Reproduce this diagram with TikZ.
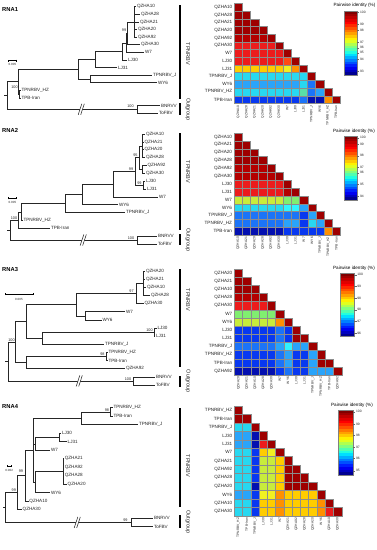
\documentclass[tikz,border=0pt]{standalone}
\usepackage{fontspec}
\setmainfont{Liberation Sans}
\usetikzlibrary{calc,arrows.meta}
\definecolor{DR}{HTML}{9E0000}
\definecolor{DQ}{HTML}{B40000}
\definecolor{RD}{HTML}{EC1C1C}
\definecolor{RO}{HTML}{FF4A14}
\definecolor{OR}{HTML}{FF9000}
\definecolor{GD}{HTML}{FFCC00}
\definecolor{YL}{HTML}{F2F020}
\definecolor{YG}{HTML}{C8EC3C}
\definecolor{LG}{HTML}{80EE70}
\definecolor{GC}{HTML}{58E0A8}
\definecolor{CY}{HTML}{28D8F0}
\definecolor{CZ}{HTML}{30F4FF}
\definecolor{LB}{HTML}{2AA4FA}
\definecolor{MB}{HTML}{1C74F8}
\definecolor{BL}{HTML}{0838F0}
\definecolor{DB}{HTML}{0410B0}
\definecolor{cb1}{HTML}{800000}
\definecolor{cb2}{HTML}{A00000}
\definecolor{cb3}{HTML}{C00000}
\definecolor{cb4}{HTML}{E00000}
\definecolor{cb5}{HTML}{FF0000}
\definecolor{cb6}{HTML}{FF2800}
\definecolor{cb7}{HTML}{FF5000}
\definecolor{cb8}{HTML}{FF7800}
\definecolor{cb9}{HTML}{FFA000}
\definecolor{cb10}{HTML}{FFC800}
\definecolor{cb11}{HTML}{FFF000}
\definecolor{cb12}{HTML}{E0FF20}
\definecolor{cb13}{HTML}{B0FF50}
\definecolor{cb14}{HTML}{80FF80}
\definecolor{cb15}{HTML}{50FFB0}
\definecolor{cb16}{HTML}{20FFE0}
\definecolor{cb17}{HTML}{00E0FF}
\definecolor{cb18}{HTML}{00B0FF}
\definecolor{cb19}{HTML}{0080FF}
\definecolor{cb20}{HTML}{0050FF}
\definecolor{cb21}{HTML}{0020FF}
\definecolor{cb22}{HTML}{0000F0}
\definecolor{cb23}{HTML}{0000C0}
\definecolor{cb24}{HTML}{000090}
\tikzset{
 br/.style={line width=0.55pt, draw=black!85},
 tip/.style={anchor=west, inner sep=0.8pt, font=\fontsize{4.6}{5}\selectfont, text=black!85},
 boot/.style={inner sep=0pt, font=\fontsize{3.8}{4}\selectfont, text=black!85},
 ttl/.style={anchor=west, inner sep=0pt, font=\fontsize{5.8}{6}\selectfont\bfseries},
 sbar/.style={line width=0.5pt, {Bar[width=2pt]}-{Bar[width=2pt]}},
 slab/.style={inner sep=0pt, font=\fontsize{3}{3.5}\selectfont, text=black!85},
 clade/.style={line width=1.4pt, draw=black},
 cladelab/.style={rotate=-90, inner sep=0pt, font=\fontsize{5.5}{6}\selectfont, text=black!85},
 rowlab/.style={anchor=east, inner sep=0pt, font=\fontsize{4.6}{5}\selectfont, text=black!85},
 collab/.style={anchor=east, rotate=90, inner sep=0pt, font=\fontsize{3.3}{4}\selectfont, text=black!85},
 cell/.style={draw=black!45, line width=0.3pt},
 cbt/.style={inner sep=0pt, font=\fontsize{4.6}{5}\selectfont},
 cbl/.style={anchor=west, inner sep=0pt, font=\fontsize{3.3}{4}\selectfont, text=black!85},
}
\newcommand\hmap[7]{%
 \foreach \rowc [count=\i] in {#6}{%
  \foreach \cc [count=\j] in \rowc{%
   \path[cell, fill=\cc] ({#1+(\j-1)*#3},{#2+(\i-1)*#4}) rectangle ++(#3,#4);
  }}%
 \foreach \lab [count=\i] in {#5}{%
  \node[rowlab] (#7r\i) at ({#1-1.8},{#2+(\i-0.5)*#4}) {\lab};
  \node[collab] (#7c\i) at ({#1+(\i-0.5)*#3},{#2+13*#4+1.8}) {\lab};
 }}
\newcommand\cbar[6]{%
 \foreach \k in {1,...,24}{%
  \fill[cb\k] ({#1},{#2+(\k-1)*#4/24-0.05}) rectangle ({#1+#3},{#2+\k*#4/24+0.05});
 }%
 \draw[black!50, line width=0.3pt] (#1,#2) rectangle ({#1+#3},{#2+#4});
 \foreach \lab/\yy [count=\k] in {#5}{%
  \draw[black!60, line width=0.3pt] ({#1+#3},\yy) -- ++(2.5,0);
  \node[cbl] (#6t\k) at ({#1+#3+3.2},\yy) {\lab};
 }}
\newcommand\brk[1]{%
 \fill[white] ($(#1)+(-1.8,5.5)$) -- ($(#1)+(1.8,-5.5)$) -- ($(#1)+(4.3,-5.5)$) -- ($(#1)+(0.7,5.5)$) -- cycle;
 \draw[br] ($(#1)+(-1.8,5.5)$) -- ($(#1)+(1.8,-5.5)$) ($(#1)+(0.7,5.5)$) -- ($(#1)+(4.3,-5.5)$);}
\begin{document}
\begin{tikzpicture}[x=1pt,y=-1pt]
\useasboundingbox (0,0) rectangle (377,550);
\fill[white] (0,0) rectangle (377,550);

% ================= RNA1 =================
\node[ttl] (t1) at (2,9) {RNA1};
\coordinate (aQc) at (134,21.9);
\coordinate (aN99) at (127.5,33.3);
\coordinate (aNW) at (126,42.8);
\coordinate (aNL) at (122,51.35);
\coordinate (aNP) at (95,59.4);
\coordinate (aNJ) at (90,78.9);
\coordinate (aM) at (78,69.2);
\coordinate (aNH) at (19.5,94.1);
\coordinate (aI) at (18,81.6);
\coordinate (aO) at (137,109.3);
\coordinate (aR) at (7,95.5);
\coordinate (aS) at (4,95.5);
\node[tip] (a1) at (136,6.7) {QZHA10};
\node[tip] (a2) at (140,14.3) {QZHA28};
\node[tip] (a3) at (139,21.9) {QZHA21};
\node[tip] (a4) at (137,29.5) {QZHA20};
\node[tip] (a5) at (137,37.1) {QZHA92};
\node[tip] (a6) at (140,44.7) {QZHA30};
\node[tip] (a7) at (144,52.3) {W7};
\node[tip] (a8) at (127,59.9) {LJ30};
\node[tip] (a9) at (117,67.5) {LJ31};
\node[tip] (a10) at (152,75.1) {TPNRBV\_J};
\node[tip] (a11) at (157,82.7) {WY6};
\node[tip] (a12) at (20.5,90.3) {TPNRBV\_HZ};
\node[tip] (a13) at (20.5,97.9) {TPB-Iran};
\node[tip] (a14) at (160,105.5) {BNRVV};
\node[tip] (a15) at (158,113.1) {ToFBV};
\draw[br] (aS) -- (aR);
\draw[br] (aR) |- (aI);
\draw[br] (aR) |- (aO);
\draw[br] (aI) |- (aM);
\draw[br] (aI) |- (aNH);
\draw[br] (aNH) |- (a12.west);
\draw[br] (aNH) |- (a13.west);
\draw[br] (aM) |- (aNP);
\draw[br] (aM) |- (aNJ);
\draw[br] (aNJ) |- (a10.west);
\draw[br] (aNJ) |- (a11.west);
\draw[br] (aNP) |- (aNL);
\draw[br] (aNP) |- (a9.west);
\draw[br] (aNL) |- (aNW);
\draw[br] (aNL) |- (a8.west);
\draw[br] (aNW) |- (aN99);
\draw[br] (aNW) |- (a7.west);
\draw[br] (aN99) |- (aQc);
\draw[br] (aN99) |- (a6.west);
\draw[br] (aQc) |- (a1.west);
\draw[br] (aQc) |- (a2.west);
\draw[br] (aQc) |- (a3.west);
\draw[br] (aQc) |- (a4.west);
\draw[br] (aQc) |- (a5.west);
\draw[br] (aO) |- (a14.west);
\draw[br] (aO) |- (a15.west);
\coordinate (aBk) at (80,109.3);
\brk{aBk}
\node[boot] (ab1) at (124,30) {99};
\node[boot] (ab2) at (14.5,87) {100};
\node[boot] (ab3) at (130.5,106.5) {100};
\coordinate (as1) at (8.3,60.7);
\coordinate (as2) at (16.7,60.7);
\draw[sbar] (as1) -- (as2);
\node[slab] (asl) at (12.5,64.5) {0.005};
\coordinate (ac1) at (180,5);
\coordinate (ac2) at (180,99);
\coordinate (ac3) at (180,103.3);
\coordinate (ac4) at (180,115);
\draw[clade] (ac1) -- (ac2);
\draw[clade] (ac3) -- (ac4);
\node[cladelab] (acl1) at (188,54) {TPNRBV};
\node[cladelab] (acl2) at (188,109.5) {Outgroup};
\hmap{234.3}{3.3}{8.13}{7.7}{QZHA10,QZHA28,QZHA21,QZHA20,QZHA92,QZHA30,W7,LJ30,LJ31,TPNRBV\_J,WY6,TPNRBV\_HZ,TPB-Iran}{{DR},{DR,DR},{DR,DR,DR},{DR,DR,DR,DR},{DQ,DQ,DQ,DQ,DR},{RD,RD,RD,RD,RD,DR},{RD,RD,RD,RD,RD,RD,DR},{RD,RD,RD,RD,RD,RD,RO,DR},{GD,GD,GD,GD,GD,GD,YL,OR,DR},{CY,CY,CY,CY,CY,CY,CY,CY,CY,DR},{LB,LB,LB,LB,LB,LB,LB,LB,CY,MB,DR},{CY,CY,CY,CY,CY,CY,CY,CY,GC,MB,LB,DR},{BL,BL,BL,BL,BL,BL,BL,BL,MB,DB,DB,OR,DR}}{ha}
\node[cbt] (k1ttl) at (354.5,5.5) {Pairwise identity (\%)};
\cbar{344}{11}{12.7}{64}{100/12.3,99/24.3,98/30,97/42.3,96/47.7,95/52.7,94/59.3,93/71}{ka}

% ================= RNA2 =================
\node[ttl] (t2) at (2,130) {RNA2};
\coordinate (bG1) at (142,145.8);
\coordinate (bG2) at (142.5,169.3);
\coordinate (bG) at (139,157.55);
\coordinate (bLJ) at (143,185.0);
\coordinate (bN) at (135,171.3);
\coordinate (bL) at (113,184.0);
\coordinate (bK) at (82,194.3);
\coordinate (bM) at (65,203.4);
\coordinate (bJ) at (21.5,211.9);
\coordinate (bI) at (18,220.0);
\coordinate (bO) at (137,240.0);
\coordinate (bR) at (10,230);
\coordinate (bS) at (7,230);
\node[tip] (b1) at (145,134) {QZHA10};
\node[tip] (b2) at (143.5,141.85) {QZHA21};
\node[tip] (b3) at (143.5,149.7) {QZHA20};
\node[tip] (b4) at (145,157.55) {QZHA28};
\node[tip] (b5) at (146.5,165.4) {QZHA92};
\node[tip] (b6) at (145,173.25) {QZHA30};
\node[tip] (b7) at (145,181.1) {LJ30};
\node[tip] (b8) at (146,188.95) {LJ31};
\node[tip] (b9) at (158,196.8) {W7};
\node[tip] (b10) at (118,204.65) {WY6};
\node[tip] (b11) at (125,212.5) {TPNRBV\_J};
\node[tip] (b12) at (22.5,220.35) {TPNRBV\_HZ};
\node[tip] (b13) at (50,228.2) {TPB-Iran};
\node[tip] (b14) at (157,236.05) {BNRVV};
\node[tip] (b15) at (157,243.9) {ToFBV};
\draw[br] (bS) -- (bR);
\draw[br] (bR) |- (bI);
\draw[br] (bR) |- (bO);
\draw[br] (bI) |- (bJ);
\draw[br] (bI) |- (b13.west);
\draw[br] (bJ) |- (bM);
\draw[br] (bJ) |- (b12.west);
\draw[br] (bM) |- (bK);
\draw[br] (bM) |- (b11.west);
\draw[br] (bK) |- (bL);
\draw[br] (bK) |- (b10.west);
\draw[br] (bL) |- (bN);
\draw[br] (bL) |- (b9.west);
\draw[br] (bN) |- (bG);
\draw[br] (bN) |- (bLJ);
\draw[br] (bLJ) |- (b7.west);
\draw[br] (bLJ) |- (b8.west);
\draw[br] (bG) |- (bG1);
\draw[br] (bG) |- (bG2);
\draw[br] (bG1) |- (b1.west);
\draw[br] (bG1) |- (b2.west);
\draw[br] (bG1) |- (b3.west);
\draw[br] (bG1) |- (b4.west);
\draw[br] (bG2) |- (b5.west);
\draw[br] (bG2) |- (b6.west);
\draw[br] (bO) |- (b14.west);
\draw[br] (bO) |- (b15.west);
\coordinate (bBk) at (82,240);
\brk{bBk}
\node[boot] (bb1) at (135.5,155.5) {95};
\node[boot] (bb2) at (131,169.5) {99};
\node[boot] (bb3) at (139.5,183) {99};
\node[boot] (bb4) at (14,218) {100};
\node[boot] (bb5) at (131,238) {100};
\coordinate (bs1) at (8.3,198.3);
\coordinate (bs2) at (16.7,198.3);
\draw[sbar] (bs1) -- (bs2);
\node[slab] (bsl) at (12.5,202.3) {0.005};
\coordinate (bc1) at (180,133.3);
\coordinate (bc2) at (180,230);
\coordinate (bc3) at (180,234.3);
\coordinate (bc4) at (180,245);
\draw[clade] (bc1) -- (bc2);
\draw[clade] (bc3) -- (bc4);
\node[cladelab] (bcl1) at (188,172) {TPNRBV};
\node[cladelab] (bcl2) at (188,240) {Outgroup};
\hmap{234}{133}{8.2}{7.85}{QZHA10,QZHA21,QZHA20,QZHA28,QZHA92,QZHA30,LJ30,LJ31,W7,WY6,TPNRBV\_J,TPNRBV\_HZ,TPB-Iran}{{DR},{DR,DR},{DR,DR,DR},{DR,DR,DR,DR},{DQ,DQ,DQ,DQ,DR},{DQ,DQ,DQ,DQ,DQ,DR},{RD,RD,RD,RD,RD,RD,DR},{RD,RD,RD,RD,RD,RD,DQ,DR},{YG,YG,YG,YG,YG,YG,LG,LG,DR},{CY,CY,CY,CY,CY,CY,CZ,CZ,LB,DR},{MB,MB,MB,MB,MB,MB,MB,MB,BL,LB,DR},{MB,MB,MB,MB,MB,MB,LB,LB,BL,CY,LB,DR},{DB,DB,DB,DB,DB,DB,BL,BL,BL,BL,BL,OR,DR}}{hb}
\node[cbt] (k2ttl) at (354,131) {Pairwise identity (\%)};
\cbar{344}{136}{12.7}{64}{100/137.7,99/144.3,98/155.7,97/167,96/172.7,95/184.3,94/196}{kb}

% ================= RNA3 =================
\node[ttl] (t3) at (2,269.5) {RNA3};
\coordinate (cQ) at (143.3,283.2);
\coordinate (cC) at (136.7,293.4);
\coordinate (cD) at (85,315.8);
\coordinate (cB) at (76,304.6);
\coordinate (cLJ) at (154,332.05);
\coordinate (cE) at (42.7,338.2);
\coordinate (cA) at (26.7,321.4);
\coordinate (cH) at (106.7,356.5);
\coordinate (cF) at (26,362.6);
\coordinate (cI) at (15,342.0);
\coordinate (cO) at (133.3,380.9);
\coordinate (cR) at (8.3,361.4);
\coordinate (cS) at (5,361.4);
\node[tip] (c1) at (145,271) {QZHA20};
\node[tip] (c2) at (145,279.14) {QZHA21};
\node[tip] (c3) at (146,287.28) {QZHA10};
\node[tip] (c4) at (150,295.42) {QZHA28};
\node[tip] (c5) at (143.5,303.56) {QZHA30};
\node[tip] (c6) at (125,311.7) {W7};
\node[tip] (c7) at (101.5,319.84) {WY6};
\node[tip] (c8) at (156.5,327.98) {LJ30};
\node[tip] (c9) at (155,336.12) {LJ31};
\node[tip] (c10) at (104,344.26) {TPNRBV\_J};
\node[tip] (c11) at (107.5,352.4) {TPNRBV\_HZ};
\node[tip] (c12) at (107.5,360.54) {TPB-Iran};
\node[tip] (c13) at (125,368.68) {QZHA92};
\node[tip] (c14) at (155,376.82) {BNRVV};
\node[tip] (c15) at (155,384.96) {ToFBV};
\draw[br] (cS) -- (cR);
\draw[br] (cR) |- (cI);
\draw[br] (cR) |- (cO);
\draw[br] (cI) |- (cA);
\draw[br] (cI) |- (cF);
\draw[br] (cA) |- (cB);
\draw[br] (cA) |- (cE);
\draw[br] (cB) |- (cC);
\draw[br] (cB) |- (cD);
\draw[br] (cC) |- (cQ);
\draw[br] (cC) |- (c5.west);
\draw[br] (cQ) |- (c1.west);
\draw[br] (cQ) |- (c2.west);
\draw[br] (cQ) |- (c3.west);
\draw[br] (cQ) |- (c4.west);
\draw[br] (cD) |- (c6.west);
\draw[br] (cD) |- (c7.west);
\draw[br] (cE) |- (cLJ);
\draw[br] (cE) |- (c10.west);
\draw[br] (cLJ) |- (c8.west);
\draw[br] (cLJ) |- (c9.west);
\draw[br] (cF) |- (cH);
\draw[br] (cF) |- (c13.west);
\draw[br] (cH) |- (c11.west);
\draw[br] (cH) |- (c12.west);
\draw[br] (cO) |- (c14.west);
\draw[br] (cO) |- (c15.west);
\coordinate (cBk) at (78,380.9);
\brk{cBk}
\node[boot] (cb1) at (131.5,291) {97};
\node[boot] (cb2) at (149.5,330) {100};
\node[boot] (cb3) at (102.5,354) {98};
\node[boot] (cb4) at (11.5,340) {100};
\node[boot] (cb5) at (128,379) {100};
\coordinate (cs1) at (5,294);
\coordinate (cs2) at (33.3,294);
\draw[sbar] (cs1) -- (cs2);
\node[slab] (csl) at (19,299.3) {0.005};
\coordinate (cc1) at (180,269);
\coordinate (cc2) at (180,367.3);
\coordinate (cc3) at (180,376);
\coordinate (cc4) at (180,386.7);
\draw[clade] (cc1) -- (cc2);
\draw[clade] (cc3) -- (cc4);
\node[cladelab] (ccl1) at (188,300) {TPNRBV};
\node[cladelab] (ccl2) at (188,381.3) {Outgroup};
\hmap{234.3}{269}{8.26}{8.15}{QZHA20,QZHA21,QZHA10,QZHA28,QZHA30,W7,WY6,LJ30,LJ31,TPNRBV\_J,TPNRBV\_HZ,TPB-Iran,QZHA92}{{DR},{DR,DR},{DR,DR,DR},{DQ,DQ,DQ,DR},{RD,RD,RD,RD,DR},{LG,LG,LG,LG,LG,DR},{YG,YG,YG,YG,YG,OR,DR},{BL,BL,BL,BL,BL,MB,BL,DR},{BL,BL,BL,BL,BL,MB,BL,DR,DR},{MB,MB,MB,MB,MB,LB,CZ,LB,LB,DR},{BL,BL,BL,BL,BL,MB,LB,BL,BL,LB,DR},{BL,BL,BL,BL,BL,MB,LB,BL,BL,LB,DR,DR},{DB,DB,DB,DB,DB,BL,MB,BL,BL,LB,LB,LB,DR}}{hc}
\node[cbt] (k3ttl) at (354,268) {Pairwise identity (\%)};
\cbar{340}{273}{14}{63.3}{100/274.7,99/286.3,98/298,98/309.7,97/321.3,96/333}{kc}

% ================= RNA4 =================
\node[ttl] (t4) at (2,406.5) {RNA4};
\coordinate (dH) at (110.7,411.95);
\coordinate (dL) at (81.7,418.3);
\coordinate (dLJ) at (59.3,437.45);
\coordinate (dM) at (35.7,443.8);
\coordinate (dQ) at (63.3,471.45);
\coordinate (dN) at (35.7,482.1);
\coordinate (dK) at (33.3,450.2);
\coordinate (dJ) at (25,475.7);
\coordinate (dI) at (17.3,492.7);
\coordinate (dO) at (131.7,522.45);
\coordinate (dR) at (5,507.6);
\coordinate (dS) at (3,507.6);
\node[tip] (d1) at (112.5,407.7) {TPNRBV\_HZ};
\node[tip] (d2) at (112.5,416.2) {TPB-Iran};
\node[tip] (d3) at (138,424.7) {TPNRBV\_J};
\node[tip] (d4) at (61,433.2) {LJ30};
\node[tip] (d5) at (66.7,441.7) {LJ31};
\node[tip] (d6) at (50,450.2) {W7};
\node[tip] (d7) at (63.8,458.7) {QZHA21};
\node[tip] (d8) at (63.8,467.2) {QZHA92};
\node[tip] (d9) at (63.8,475.7) {QZHA28};
\node[tip] (d10) at (66.7,484.2) {QZHA20};
\node[tip] (d11) at (50,492.7) {WY6};
\node[tip] (d12) at (28.5,501.2) {QZHA10};
\node[tip] (d13) at (21.7,509.7) {QZHA30};
\node[tip] (d14) at (153,518.2) {BNRVV};
\node[tip] (d15) at (153,526.7) {ToFBV};
\draw[br] (dS) -- (dR);
\draw[br] (dR) |- (dI);
\draw[br] (dR) |- (dO);
\draw[br] (dI) |- (dJ);
\draw[br] (dI) |- (d13.west);
\draw[br] (dJ) |- (dK);
\draw[br] (dJ) |- (d12.west);
\draw[br] (dK) |- (dL);
\draw[br] (dK) |- (dM);
\draw[br] (dK) |- (dN);
\draw[br] (dL) |- (dH);
\draw[br] (dL) |- (d3.west);
\draw[br] (dH) |- (d1.west);
\draw[br] (dH) |- (d2.west);
\draw[br] (dM) |- (dLJ);
\draw[br] (dM) |- (d6.west);
\draw[br] (dLJ) |- (d4.west);
\draw[br] (dLJ) |- (d5.west);
\draw[br] (dN) |- (dQ);
\draw[br] (dN) |- (d11.west);
\draw[br] (dQ) |- (d7.west);
\draw[br] (dQ) |- (d8.west);
\draw[br] (dQ) |- (d9.west);
\draw[br] (dQ) |- (d10.west);
\draw[br] (dO) |- (d14.west);
\draw[br] (dO) |- (d15.west);
\coordinate (dBk) at (76,522.45);
\brk{dBk}
\node[boot] (db1) at (107,410) {98};
\node[boot] (db2) at (21,471) {99};
\node[boot] (db3) at (13.8,490.5) {99};
\node[boot] (db4) at (125.5,520.3) {99};
\coordinate (ds1) at (6.7,466);
\coordinate (ds2) at (11.7,466);
\draw[sbar] (ds1) -- (ds2);
\node[slab] (dsl) at (9.2,470.7) {0.002};
\coordinate (dc1) at (180,408.3);
\coordinate (dc2) at (180,506.7);
\coordinate (dc3) at (180,515);
\coordinate (dc4) at (180,528.3);
\draw[clade] (dc1) -- (dc2);
\draw[clade] (dc3) -- (dc4);
\node[cladelab] (dcl1) at (188,466) {TPNRBV};
\node[cladelab] (dcl2) at (188,522) {Outgroup};
\hmap{234.3}{405.8}{8.26}{8.47}{TPNRBV\_HZ,TPB-Iran,TPNRBV\_J,LJ30,LJ31,W7,QZHA21,QZHA92,QZHA28,QZHA20,WY6,QZHA10,QZHA30}{{DR},{DR,DR},{CY,CY,DR},{LB,LB,DB,DR},{LB,LB,DB,RD,DR},{CY,CY,BL,GD,YL,DR},{CY,CY,BL,YG,YG,GD,DR},{CY,CY,BL,YG,YG,GD,DR,DR},{CY,CY,BL,YG,YG,GD,DR,DR,DR},{CY,CY,DB,YG,YG,GD,DR,DR,DR,DR},{LB,LB,BL,YL,YL,OR,GD,GD,GD,GD,DR},{CY,CY,BL,GD,GD,OR,GD,GD,GD,GD,OR,DR},{CY,CY,BL,GD,GD,OR,GD,GD,GD,GD,OR,RD,DR}}{hd}
\node[cbt] (k4ttl) at (352,405.7) {Pairwise identity (\%)};
\cbar{337.7}{410}{15}{65}{100/411.7,99/424,98/435,97/447.3,96/458.3,95/470.7}{kd}
\end{tikzpicture}
\end{document}
